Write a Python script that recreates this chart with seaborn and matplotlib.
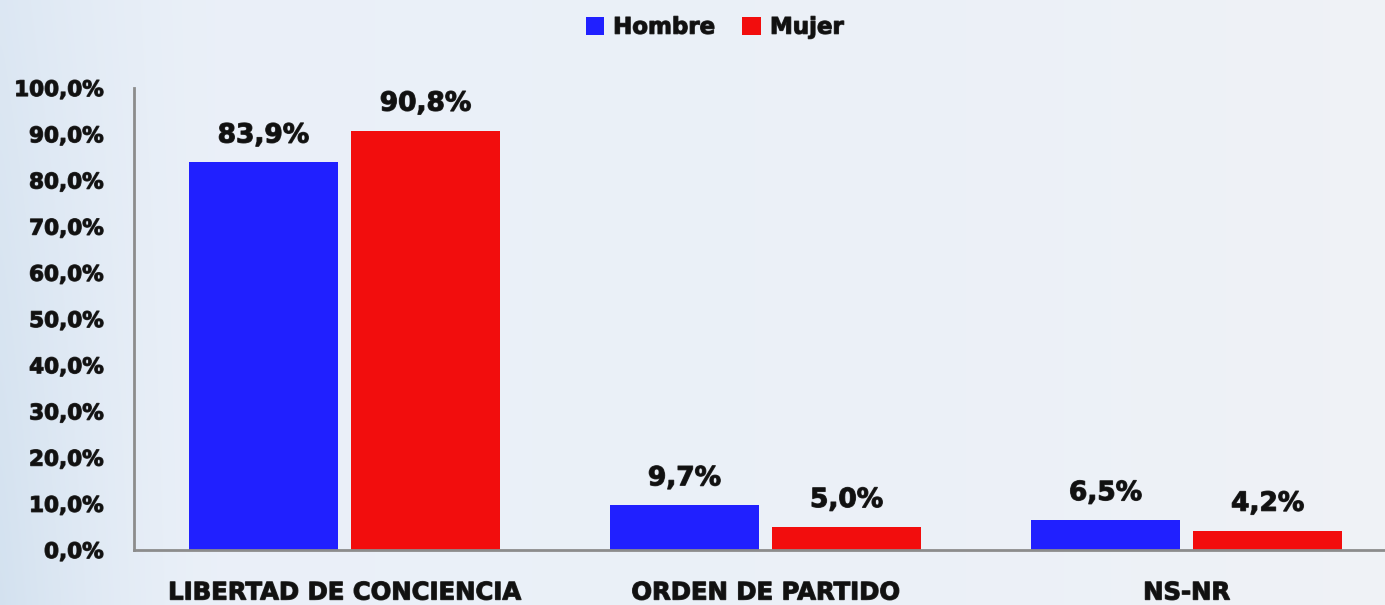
import numpy as np
import pandas as pd
import matplotlib
matplotlib.use("Agg")
import matplotlib.pyplot as plt
from matplotlib.patches import Patch
import matplotlib.patheffects as pe
import seaborn as sns

# ---- data ----
categories = ["LIBERTAD DE CONCIENCIA", "ORDEN DE PARTIDO", "NS-NR"]
hombre = [83.9, 9.7, 6.5]
mujer = [90.8, 5.0, 4.2]
series_names = ["Hombre", "Mujer"]
yticks = [0, 10, 20, 30, 40, 50, 60, 70, 80, 90, 100]
ytick_labels = ["0,0%", "10,0%", "20,0%", "30,0%", "40,0%", "50,0%",
                "60,0%", "70,0%", "80,0%", "90,0%", "100,0%"]

df = pd.DataFrame({
    "categoria": categories * 2,
    "sexo": [series_names[0]] * 3 + [series_names[1]] * 3,
    "valor": hombre + mujer,
})

sns.set_theme(style="white")
plt.rcParams["font.family"] = ["DejaVu Sans"]
plt.rcParams["font.weight"] = "bold"
plt.rcParams["text.color"] = "#111111"

colors = {"Hombre": "#2020ff", "Mujer": "#f20d0d"}
stroke = [pe.withStroke(linewidth=0.9, foreground="#333333")]

fig = plt.figure(figsize=(13.85, 6.05), dpi=100)

# background gradient (styling only)
bg = fig.add_axes([0, 0, 1, 1], zorder=-10)
h, w = 121, 277
yy, xx = np.mgrid[1:0:h * 1j, 0:1:w * 1j]
base = np.array([0.918, 0.941, 0.973])
right = np.array([0.94, 0.95, 0.965])
edge = np.array([0.83, 0.885, 0.94])
tx = np.clip(xx, 0, 1)
img = base[None, None, :] * (1 - tx[..., None] ** 3) + right[None, None, :] * (tx[..., None] ** 3)
fl = np.clip(1 - xx / 0.16, 0, 1) ** 1.5 * (0.6 + 0.4 * (1 - yy))
img = img * (1 - fl[..., None]) + edge[None, None, :] * fl[..., None]
bg.imshow(img, aspect="auto", extent=[0, 1, 0, 1], interpolation="bicubic")
bg.axis("off")

ax = fig.add_axes([0.0968, 0.0909, 0.912, 0.7636])
ax.patch.set_alpha(0)

sns.barplot(data=df, x="categoria", y="valor", hue="sexo", order=categories,
            hue_order=series_names, palette=colors, width=0.77, gap=0.08,
            saturation=1, ax=ax, legend=False, linewidth=0, edgecolor="none")

for cont in ax.containers:
    labels = [f"{b.get_height():.1f}%".replace(".", ",") for b in cont]
    texts = ax.bar_label(cont, labels=labels, padding=10)
    for t in texts:
        t.set_fontsize(19)
        t.set_fontweight("bold")
        t.set_color("#111111")
        t.set_path_effects(stroke)

ax.set_xlim(-0.5, 2.5)
ax.set_ylim(0, 100)
ax.set_yticks(yticks)
ax.set_yticklabels(ytick_labels)
ax.tick_params(axis="y", length=0, pad=22, labelsize=15.5, labelcolor="#111111")
ax.tick_params(axis="x", length=0, pad=22, labelsize=17.5, labelcolor="#111111")
for lab in ax.get_xticklabels() + ax.get_yticklabels():
    lab.set_fontweight("bold")
    lab.set_path_effects(stroke)
ax.set_xlabel("")
ax.set_ylabel("")

for s in ["top", "right"]:
    ax.spines[s].set_visible(False)
for s in ["left", "bottom"]:
    ax.spines[s].set_color("#8c8c8c")
    ax.spines[s].set_linewidth(2)

handles = [Patch(facecolor=colors[n], edgecolor="none", label=n) for n in series_names]
leg = fig.legend(handles=handles, loc="center", bbox_to_anchor=(0.516, 0.955), ncol=2,
                 frameon=False, handlelength=0.8, handleheight=0.8,
                 handletextpad=0.4, columnspacing=1.2, prop={"weight": "bold", "size": 16.5})
for t in leg.get_texts():
    t.set_color("#111111")
    t.set_path_effects(stroke)

fig.savefig("out.png", dpi=100)
